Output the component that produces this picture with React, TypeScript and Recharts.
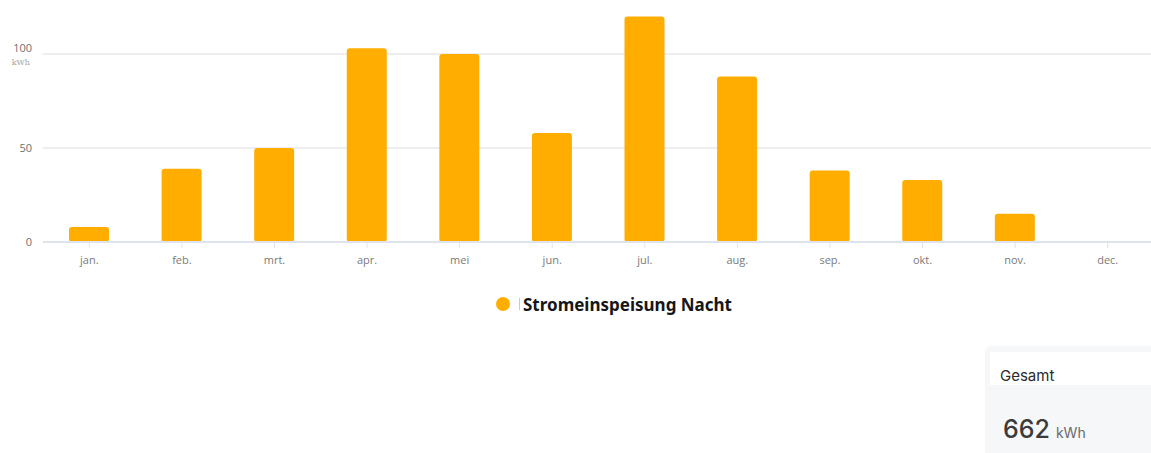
import React from "react";
import { BarChart, Bar, XAxis, YAxis, CartesianGrid } from "recharts";

const months = ["jan.", "feb.", "mrt.", "apr.", "mei", "jun.", "jul.", "aug.", "sep.", "okt.", "nov.", "dec."];
const nightFeedIn = [8, 39, 50, 103, 100, 58, 120, 88, 38, 33, 15, 0];
const yTicks = [0, 50, 100];
const seriesName = "Stromeinspeisung Nacht";
const totalValue = 662;
const unit = "kWh";

const data = months.map((m, i) => ({ month: m, value: nightFeedIn[i] }));

// map a value through whatever scale object the grid hands us
const scaleY = (yAxis: any, v: number) => {
  const s = yAxis && yAxis.scale;
  if (typeof s === "function") return s(v);
  if (s && typeof s.map === "function") return s.map(v);
  if (s && typeof s.apply === "function") return s.apply(v);
  return undefined;
};

// y tick: the top value gets the unit written under it
const YTick = (props: any) => {
  const { x, y, payload } = props;
  const isTop = payload.value === yTicks[yTicks.length - 1];
  return (
    <g>
      <text
        x={x}
        y={isTop ? y - 6 : y}
        dy="0.35em"
        textAnchor="end"
        fontSize={11}
        fill="#6f6f6f"
        fontFamily="Open Sans, sans-serif"
      >
        {payload.value}
      </text>
      {isTop && (
        <text
          x={x - 2}
          y={y + 8}
          dy="0.35em"
          textAnchor="end"
          fontSize={8}
          fill="#a5a5a5"
          fontFamily="DejaVu Serif, serif"
        >
          {unit}
        </text>
      )}
    </g>
  );
};

export default function App() {
  return (
    <div
      style={{
        position: "absolute",
        left: 0,
        top: 0,
        width: 1151,
        height: 453,
        overflow: "hidden",
        background: "#ffffff",
      }}
    >
      <BarChart
        width={1160}
        height={272}
        data={data}
        margin={{ top: 7, right: 6, left: 0, bottom: 0 }}
      >
        <CartesianGrid
          vertical={false}
          stroke="#e8e8ea"
          strokeWidth={1.5}
          horizontalCoordinatesGenerator={({ yAxis }: any) =>
            yTicks
              .filter((t) => t > 0)
              .map((t) => scaleY(yAxis, t))
              .filter((v) => typeof v === "number" && !isNaN(v))
          }
        />
        <XAxis
          dataKey="month"
          height={30}
          axisLine={{ stroke: "#dfe3ee", strokeWidth: 2 }}
          tickLine={{ stroke: "#dfe3ee" }}
          tickSize={6}
          tickMargin={8}
          tick={{ fontSize: 11, fill: "#7a7a7a", fontFamily: "Open Sans, sans-serif" }}
          interval={0}
        />
        <YAxis
          width={43}
          domain={[0, 125]}
          ticks={yTicks}
          axisLine={false}
          tickLine={false}
          tickSize={0}
          tickMargin={11}
          tick={<YTick />}
        />
        <Bar
          dataKey="value"
          fill="#ffae00"
          barSize={40}
          radius={[3, 3, 3, 3]}
          isAnimationActive={false}
        />
      </BarChart>

      {/* legend */}
      <div
        style={{
          position: "absolute",
          left: 496,
          top: 293,
          display: "flex",
          alignItems: "center",
          height: 22,
        }}
      >
        <span
          style={{
            width: 14,
            height: 14,
            borderRadius: "50%",
            background: "#ffae00",
            display: "inline-block",
          }}
        />
        <span
          style={{
            width: 1,
            height: 12,
            background: "#e8c88a",
            display: "inline-block",
            marginLeft: 9,
            marginRight: 3,
          }}
        />
        <span
          style={{
            fontFamily: "Noto Sans, sans-serif",
            fontWeight: 700,
            fontSize: 17,
            color: "#161616",
          }}
        >
          {seriesName}
        </span>
      </div>

      {/* total box */}
      <div
        style={{
          position: "absolute",
          left: 985,
          top: 346,
          width: 170,
          height: 110,
          background: "#f6f7f9",
          borderRadius: "6px 0 0 0",
        }}
      >
        <div
          style={{
            position: "absolute",
            left: 5,
            top: 6,
            right: 0,
            height: 33,
            background: "#ffffff",
          }}
        >
          <span
            style={{
              position: "absolute",
              left: 10,
              top: 14,
              fontFamily: "Inter, sans-serif",
              fontSize: 15,
              color: "#2a2a2a",
            }}
          >
            Gesamt
          </span>
        </div>
        <div
          style={{
            position: "absolute",
            left: 18,
            top: 68,
            fontFamily: "Inter, sans-serif",
            whiteSpace: "nowrap",
          }}
        >
          <span style={{ fontSize: 25, fontWeight: 500, color: "#3b3b3b" }}>{totalValue}</span>
          <span style={{ fontSize: 14, color: "#6a6a6a", marginLeft: 6 }}>{unit}</span>
        </div>
      </div>
    </div>
  );
}
